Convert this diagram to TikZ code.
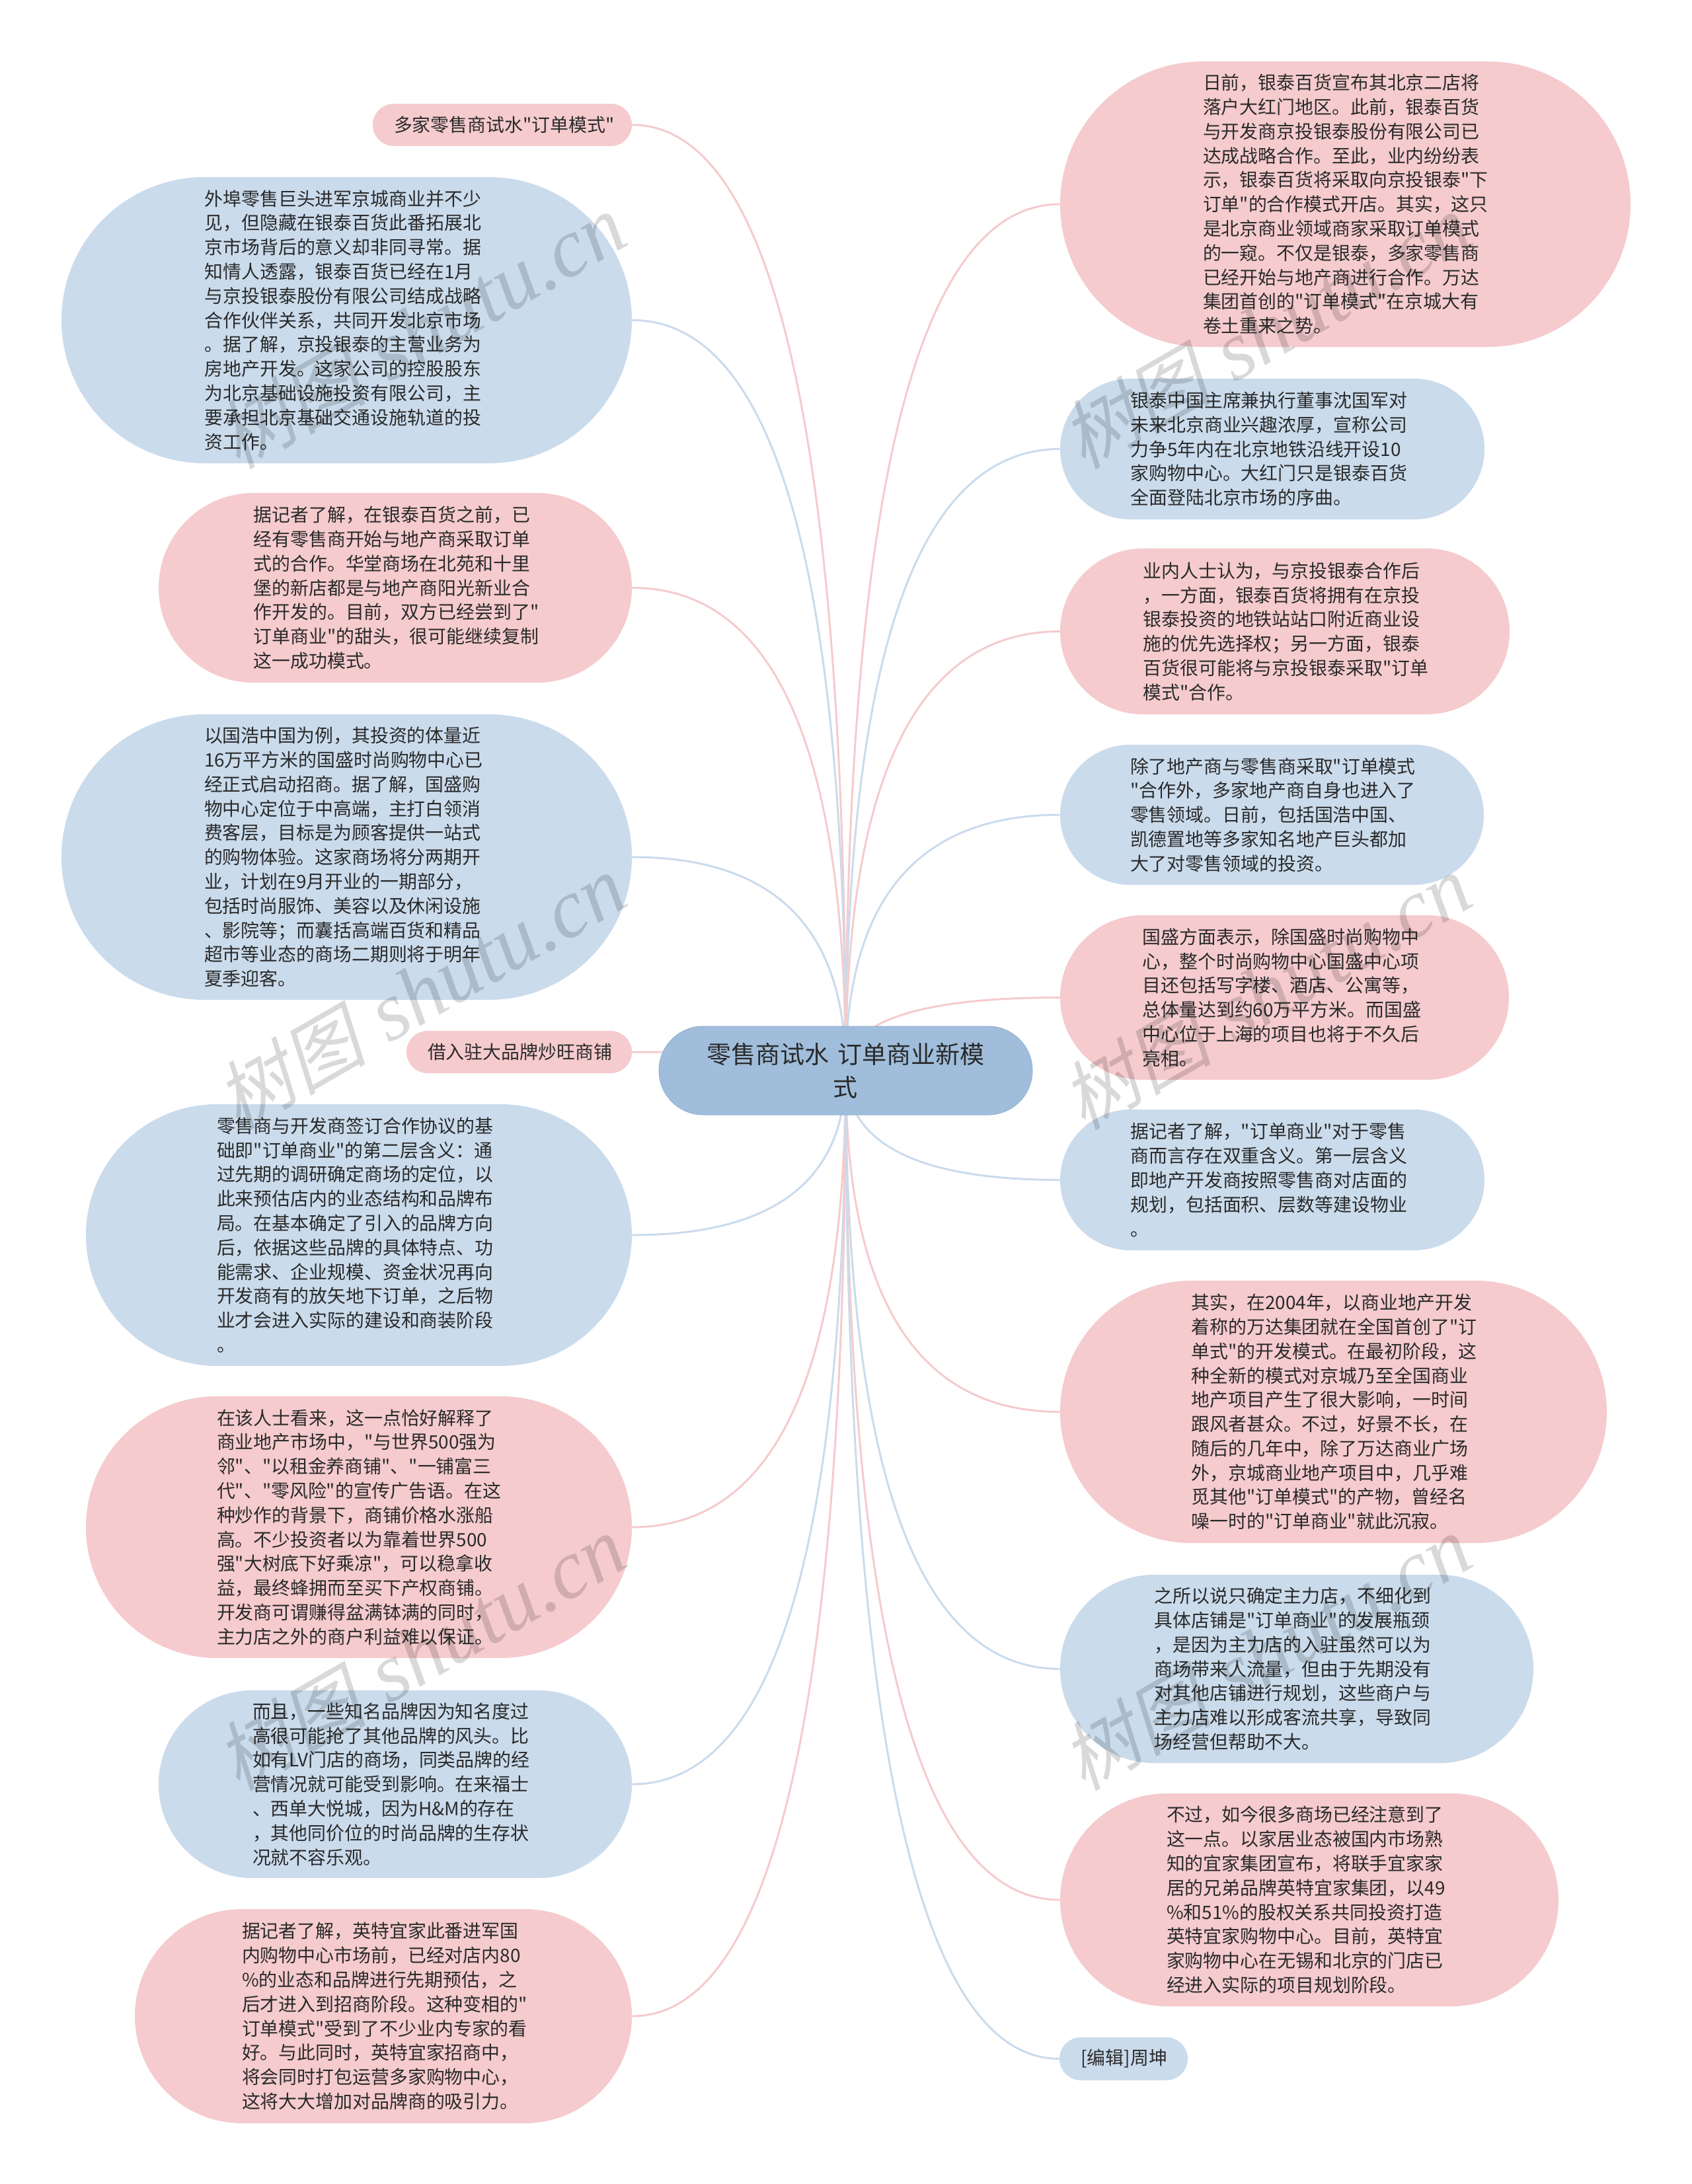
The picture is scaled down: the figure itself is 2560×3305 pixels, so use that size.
\documentclass[tikz,border=0pt]{standalone}
\usepackage{fontspec}
\usetikzlibrary{calc,backgrounds}
\setmainfont{Noto Sans CJK SC}
\newfontfamily\bodyfont{Noto Sans CJK SC}
\newfontfamily\wmcjk[FakeSlant=0.22]{Noto Sans CJK SC}
\newfontfamily\wmlat{Liberation Serif}
\definecolor{pinkfill}{HTML}{F5CBCD}
\definecolor{bluefill}{HTML}{CADBEC}
\definecolor{hubfill}{HTML}{A0BEDB}
\definecolor{hubedge}{HTML}{94B4D4}
\definecolor{inkc}{HTML}{2A2A2A}
\tikzset{
  pillbox/.style={inner ysep=0pt,align=left,text=inkc,font=\bodyfont\fontsize{13.95}{18.4}\selectfont},
  pinkbox/.style={pillbox,fill=pinkfill},
  bluebox/.style={pillbox,fill=bluefill},
  hubbox/.style={pillbox,fill=hubfill,draw=hubedge,line width=.5pt,align=center,font=\bodyfont\fontsize{18.55}{25}\selectfont},
  pinklink/.style={draw=pinkfill,line width=1.5pt},
  bluelink/.style={draw=bluefill,line width=1.5pt},
  wmark/.style={rotate=30,anchor=base,text=black,opacity=.15,inner sep=0pt},
}
% name, style, x1, y1, x2, y2, text  (pixel coordinates of the reference)
\newcommand{\mmnode}[7]{%
  \pgfmathsetmacro\mmw{(#5-#3)*0.5}%
  \pgfmathsetmacro\mmh{(#6-#4)*0.5}%
  \pgfmathsetmacro\mmr{\mmh*0.5}%
  \pgfmathsetmacro\mmt{\mmw-\mmh}%
  \node[#2,rounded corners=\mmr pt,minimum width=\mmw pt,minimum height=\mmh pt,inner xsep=\mmr pt,text width=\mmt pt]
    (#1) at ({(#3+#5)/2},{(#4+#6)/2}) {#7};}
% quadratic curve from the hub's centre, control point above/below it at the level of the node
\newcommand{\mmlink}[3]{%
  \draw[#3] (hub.center) .. controls ($(hub.center)!.6667!(hub.center|-#1.#2)$) and ($(#1.#2)!.6667!(hub.center|-#1.#2)$) .. (#1.#2);}
\newcommand{\wmtext}{{\wmcjk\fontsize{57}{57}\selectfont 树图}\hspace{18pt}{\wmlat\itshape\fontsize{63}{63}\selectfont shutu.cn}}
\begin{document}
\begin{tikzpicture}[x=0.5pt,y=-0.5pt]
\useasboundingbox (0,0) rectangle (2560,3305);
\mmnode{hub}{hubbox}{997}{1553}{1562}{1687}{零售商试水 订单商业新模\\式}
\mmnode{la}{pinkbox}{564}{157}{956}{221}{多家零售商试水"订单模式"}
\mmnode{lb}{bluebox}{93}{268}{956}{701}{外埠零售巨头进军京城商业并不少\\见，但隐藏在银泰百货此番拓展北\\京市场背后的意义却非同寻常。据\\知情人透露，银泰百货已经在1月\\与京投银泰股份有限公司结成战略\\合作伙伴关系，共同开发北京市场\\。据了解，京投银泰的主营业务为\\房地产开发。这家公司的控股股东\\为北京基础设施投资有限公司，主\\要承担北京基础交通设施轨道的投\\资工作。}
\mmnode{lc}{pinkbox}{240}{746}{956}{1033}{据记者了解，在银泰百货之前，已\\经有零售商开始与地产商采取订单\\式的合作。华堂商场在北苑和十里\\堡的新店都是与地产商阳光新业合\\作开发的。目前，双方已经尝到了"\\订单商业"的甜头，很可能继续复制\\这一成功模式。}
\mmnode{ld}{bluebox}{93}{1081}{956}{1513}{以国浩中国为例，其投资的体量近\\16万平方米的国盛时尚购物中心已\\经正式启动招商。据了解，国盛购\\物中心定位于中高端，主打白领消\\费客层，目标是为顾客提供一站式\\的购物体验。这家商场将分两期开\\业，计划在9月开业的一期部分，\\包括时尚服饰、美容以及休闲设施\\、影院等；而囊括高端百货和精品\\超市等业态的商场二期则将于明年\\夏季迎客。}
\mmnode{le}{pinkbox}{615}{1560}{956}{1624}{借入驻大品牌炒旺商铺}
\mmnode{lf}{bluebox}{130}{1671}{956}{2067}{零售商与开发商签订合作协议的基\\础即"订单商业"的第二层含义：通\\过先期的调研确定商场的定位，以\\此来预估店内的业态结构和品牌布\\局。在基本确定了引入的品牌方向\\后，依据这些品牌的具体特点、功\\能需求、企业规模、资金状况再向\\开发商有的放矢地下订单，之后物\\业才会进入实际的建设和商装阶段\\。}
\mmnode{lg}{pinkbox}{130}{2113}{956}{2509}{在该人士看来，这一点恰好解释了\\商业地产市场中，"与世界500强为\\邻"、"以租金养商铺"、"一铺富三\\代"、"零风险"的宣传广告语。在这\\种炒作的背景下，商铺价格水涨船\\高。不少投资者以为靠着世界500\\强"大树底下好乘凉"，可以稳拿收\\益，最终蜂拥而至买下产权商铺。\\开发商可谓赚得盆满钵满的同时，\\主力店之外的商户利益难以保证。}
\mmnode{lh}{bluebox}{240}{2558}{956}{2842}{而且，一些知名品牌因为知名度过\\高很可能抢了其他品牌的风头。比\\如有LV门店的商场，同类品牌的经\\营情况就可能受到影响。在来福士\\、西单大悦城，因为H\&M的存在\\，其他同价位的时尚品牌的生存状\\况就不容乐观。}
\mmnode{li}{pinkbox}{204}{2889}{956}{3213}{据记者了解，英特宜家此番进军国\\内购物中心市场前，已经对店内80\\\%的业态和品牌进行先期预估，之\\后才进入到招商阶段。这种变相的"\\订单模式"受到了不少业内专家的看\\好。与此同时，英特宜家招商中，\\将会同时打包运营多家购物中心，\\这将大大增加对品牌商的吸引力。}
\mmnode{ra}{pinkbox}{1604}{93}{2467}{525}{日前，银泰百货宣布其北京二店将\\落户大红门地区。此前，银泰百货\\与开发商京投银泰股份有限公司已\\达成战略合作。至此，业内纷纷表\\示，银泰百货将采取向京投银泰"下\\订单"的合作模式开店。其实，这只\\是北京商业领域商家采取订单模式\\的一窥。不仅是银泰，多家零售商\\已经开始与地产商进行合作。万达\\集团首创的"订单模式"在京城大有\\卷土重来之势。}
\mmnode{rb}{bluebox}{1604}{573}{2246}{786}{银泰中国主席兼执行董事沈国军对\\未来北京商业兴趣浓厚，宣称公司\\力争5年内在北京地铁沿线开设10\\家购物中心。大红门只是银泰百货\\全面登陆北京市场的序曲。}
\mmnode{rc}{pinkbox}{1604}{830}{2284}{1081}{业内人士认为，与京投银泰合作后\\，一方面，银泰百货将拥有在京投\\银泰投资的地铁站站口附近商业设\\施的优先选择权；另一方面，银泰\\百货很可能将与京投银泰采取"订单\\模式"合作。}
\mmnode{rd}{bluebox}{1604}{1127}{2245}{1339}{除了地产商与零售商采取"订单模式\\"合作外，多家地产商自身也进入了\\零售领域。日前，包括国浩中国、\\凯德置地等多家知名地产巨头都加\\大了对零售领域的投资。}
\mmnode{re}{pinkbox}{1604}{1385}{2283}{1634}{国盛方面表示，除国盛时尚购物中\\心，整个时尚购物中心国盛中心项\\目还包括写字楼、酒店、公寓等，\\总体量达到约60万平方米。而国盛\\中心位于上海的项目也将于不久后\\亮相。}
\mmnode{rf}{bluebox}{1604}{1679}{2246}{1892}{据记者了解，"订单商业"对于零售\\商而言存在双重含义。第一层含义\\即地产开发商按照零售商对店面的\\规划，包括面积、层数等建设物业\\。}
\mmnode{rg}{pinkbox}{1604}{1938}{2431}{2335}{其实，在2004年，以商业地产开发\\着称的万达集团就在全国首创了"订\\单式"的开发模式。在最初阶段，这\\种全新的模式对京城乃至全国商业\\地产项目产生了很大影响，一时间\\跟风者甚众。不过，好景不长，在\\随后的几年中，除了万达商业广场\\外，京城商业地产项目中，几乎难\\觅其他"订单模式"的产物，曾经名\\噪一时的"订单商业"就此沉寂。}
\mmnode{rh}{bluebox}{1604}{2383}{2320}{2668}{之所以说只确定主力店，不细化到\\具体店铺是"订单商业"的发展瓶颈\\，是因为主力店的入驻虽然可以为\\商场带来人流量，但由于先期没有\\对其他店铺进行规划，这些商户与\\主力店难以形成客流共享，导致同\\场经营但帮助不大。}
\mmnode{ri}{pinkbox}{1604}{2714}{2358}{3036}{不过，如今很多商场已经注意到了\\这一点。以家居业态被国内市场熟\\知的宜家集团宣布，将联手宜家家\\居的兄弟品牌英特宜家集团，以49\\\%和51\%的股权关系共同投资打造\\英特宜家购物中心。目前，英特宜\\家购物中心在无锡和北京的门店已\\经进入实际的项目规划阶段。}
\mmnode{rj}{bluebox}{1603}{3083}{1797}{3148}{[编辑]周坤}
\begin{scope}[on background layer]
  \fill[white] (0,0) rectangle (2560,3305);
  \mmlink{la}{east}{pinklink}
  \mmlink{lb}{east}{bluelink}
  \mmlink{lc}{east}{pinklink}
  \mmlink{ld}{east}{bluelink}
  \mmlink{le}{east}{pinklink}
  \mmlink{lf}{east}{bluelink}
  \mmlink{lg}{east}{pinklink}
  \mmlink{lh}{east}{bluelink}
  \mmlink{li}{east}{pinklink}
  \mmlink{ra}{west}{pinklink}
  \mmlink{rb}{west}{bluelink}
  \mmlink{rc}{west}{pinklink}
  \mmlink{rd}{west}{bluelink}
  \mmlink{re}{west}{pinklink}
  \mmlink{rf}{west}{bluelink}
  \mmlink{rg}{west}{pinklink}
  \mmlink{rh}{west}{bluelink}
  \mmlink{ri}{west}{pinklink}
  \mmlink{rj}{west}{bluelink}
\end{scope}
\node[wmark] (wa) at (658,540) {\wmtext};
\node[wmark] (wb) at (658,1540) {\wmtext};
\node[wmark] (wc) at (658,2540) {\wmtext};
\node[wmark] (wd) at (1937,540) {\wmtext};
\node[wmark] (we) at (1937,1540) {\wmtext};
\node[wmark] (wf) at (1937,2540) {\wmtext};
\end{tikzpicture}
\end{document}
